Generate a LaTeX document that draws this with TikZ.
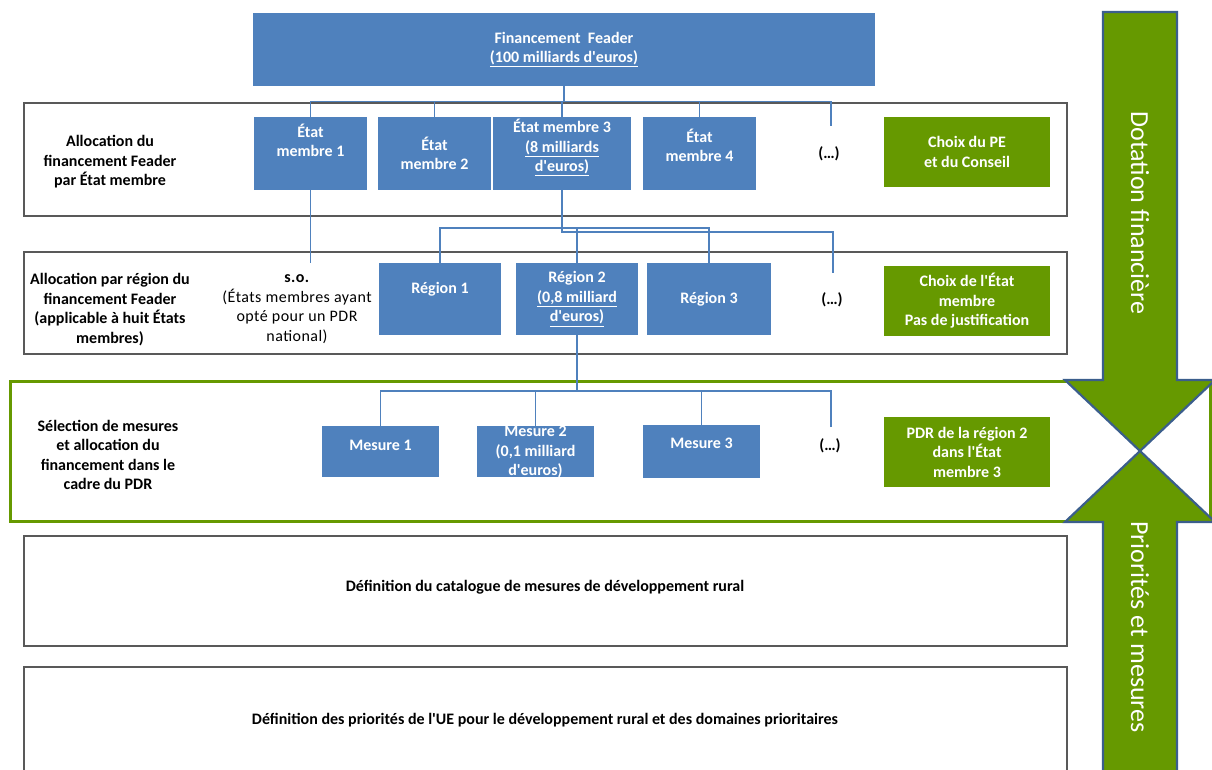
\documentclass[tikz,border=0pt]{standalone}
\usepackage{fontspec}
\setmainfont{Carlito}
\definecolor{feaderblue}{HTML}{4F81BD}
\definecolor{choixgreen}{HTML}{669900}
\definecolor{arrowedge}{HTML}{3B5E8C}
\definecolor{rowgray}{HTML}{595959}
\newcommand{\lift}[2]{\raisebox{#1}[0pt][0pt]{\begin{tabular}{@{}c@{}}#2\end{tabular}}}
\newcommand{\aq}{\textquotesingle}
\tikzset{bluebox/.style = {rectangle, fill=feaderblue, text=white, align=center, inner sep=0,
                           font=\bfseries\fontsize{16}{19.5}\selectfont}}
\tikzset{greenbox/.style = {rectangle, fill=choixgreen, text=white, align=center, inner sep=0,
                            minimum width=166, minimum height=70, font=\bfseries\fontsize{16}{19.5}\selectfont}}
\tikzset{rowlabel/.style = {align=center, inner sep=0, font=\bfseries\fontsize{16}{19.5}\selectfont}}
\tikzset{rowframe/.style = {draw=rowgray, line width=1.4}}
\tikzset{pdrframe/.style = {draw=choixgreen, line width=3}}
\tikzset{link/.style = {draw=feaderblue, line width=1.5}}
\tikzset{flow/.style = {fill=choixgreen, draw=arrowedge, line width=2.2, line join=miter}}
\tikzset{flowtext/.style = {text=white, rotate=-90, inner sep=0, font=\fontsize{26}{30}\selectfont}}

\begin{document}
\begin{tikzpicture}[x=1pt, y=-1pt]
      \useasboundingbox (0,0) rectangle (1212,770);
      \clip (0,0) rectangle (1212,770);
      \draw [rowframe] (24,103) rectangle (1067,216);
      \draw [rowframe] (24,252) rectangle (1067,354);
      \draw [pdrframe] (10,381) rectangle (1210,521);
      \draw [rowframe] (24,536) rectangle (1067,646);
      \draw [rowframe] (24,667) rectangle (1067,800);
      \node [rowlabel] (lab1) at (110,162) {Allocation du\\financement Feader\\par État membre};
      \node [rowlabel] (lab2) at (110,309.5) {Allocation par région du\\financement Feader\\(applicable à huit États\\membres)};
      \node [rowlabel] (lab3) at (108,455) {Sélection de mesures\\et allocation du\\financement dans le\\cadre du PDR};
      \node [rowlabel] (lab4) at (545,587) {Définition du catalogue de mesures de développement rural};
      \node [rowlabel] (lab5) at (545,720) {Définition des priorités de l\aq{}UE pour le développement rural et des domaines prioritaires};
      \node [bluebox, minimum width=622, minimum height=73] (fin) at (564,49.5) {Financement\ \ Feader\\\underline{(100 milliards d\aq{}euros)}};
      \node [bluebox, minimum width=113, minimum height=73] (e1) at (310.5,153.5) {\lift{6pt}{État\\membre 1}};
      \node [bluebox, minimum width=113, minimum height=73] (e2) at (434.5,153.5) {État\\membre 2};
      \node [bluebox, minimum width=138, minimum height=73] (e3) at (562,153.5) {\lift{1pt}{État membre 3\\\underline{(8 milliards}\\\underline{d\aq{}euros)}}};
      \node [bluebox, minimum width=113, minimum height=73] (e4) at (699.5,153.5) {\lift{1pt}{État\\membre 4}};
      \node [rowlabel] (d1) at (829,154) {(…)};
      \node [greenbox] (c1) at (967,152) {Choix du PE\\et du Conseil};
      \node [align=center, inner sep=0, font=\fontsize{16}{19.5}\selectfont\addfontfeature{LetterSpace=3}] (so) at (297,309) {\textbf{s.o.}\\(États membres ayant\\opté pour un PDR\\national)};
      \node [bluebox, minimum width=122, minimum height=72] (r1) at (440,299) {\lift{5pt}{Région 1}};
      \node [bluebox, minimum width=122, minimum height=72] (r2) at (577,299) {Région 2\\\underline{(0,8 milliard}\\\underline{d\aq{}euros)}};
      \node [bluebox, minimum width=124, minimum height=72] (r3) at (709,299) {Région 3};
      \node [rowlabel] (d2) at (832,300) {(…)};
      \node [greenbox] (c2) at (967,301) {Choix de l\aq{}État\\membre\\Pas de justification};
      \node [bluebox, minimum width=117, minimum height=51] (m1) at (380.5,451.5) {\lift{1pt}{Mesure 1}};
      \node [bluebox, minimum width=117, minimum height=51] (m2) at (535.5,451.5) {\lift{-5pt}{Mesure 2\\(0,1 milliard\\d\aq{}euros)}};
      \node [bluebox, minimum width=117, minimum height=53] (m3) at (701.5,451.5) {\lift{3pt}{Mesure 3}};
      \node [rowlabel] (d3) at (830,446) {(…)};
      \node [greenbox] (c3) at (967,452) {PDR de la région 2\\dans l\aq{}État\\membre 3};
      \coordinate (bus1) at (564,101.5);
      \coordinate (t1) at (831,126);
      \coordinate (t0) at (310.5,263);
      \coordinate (bus2) at (563,232);
      \coordinate (bus2b) at (577,228);
      \coordinate (t2) at (833,273);
      \coordinate (bus3) at (577,391);
      \coordinate (t3) at (831,427);
      \draw [link] (fin.south) -- (bus1);
      \draw [link] (e1.north) |- (bus1);
      \draw [link] (e2.north) |- (bus1);
      \draw [link] (e3.north) |- (bus1);
      \draw [link] (e4.north) |- (bus1);
      \draw [link] (t1) |- (bus1);
      \draw [link] (e1.south) -- (t0);
      \draw [link] (e3.south) -- (e3.south |- bus2) -| (t2);
      \draw [link] (r1.north) |- (bus2b) -| (r3.north);
      \draw [link] (bus2b) -- (r2.north);
      \draw [link] (r2.south) -- (bus3);
      \draw [link] (m1.north) |- (bus3);
      \draw [link] (m2.north) |- (bus3);
      \draw [link] (m3.north) |- (bus3);
      \draw [link] (t3) |- (bus3);
      \draw [flow] (1103,12) -- (1177,12) -- (1177,380) -- (1215,380) -- (1140,451) -- (1065,380) -- (1103,380) -- cycle;
      \draw [flow] (1140,451) -- (1215,522) -- (1177,522) -- (1177,790) -- (1103,790) -- (1103,522) -- (1065,522) -- cycle;
      \node [flowtext] (dot) at (1140,213) {Dotation financière};
      \node [flowtext] (prio) at (1140,627) {Priorités et mesures};
    \end{tikzpicture}
\end{document}
